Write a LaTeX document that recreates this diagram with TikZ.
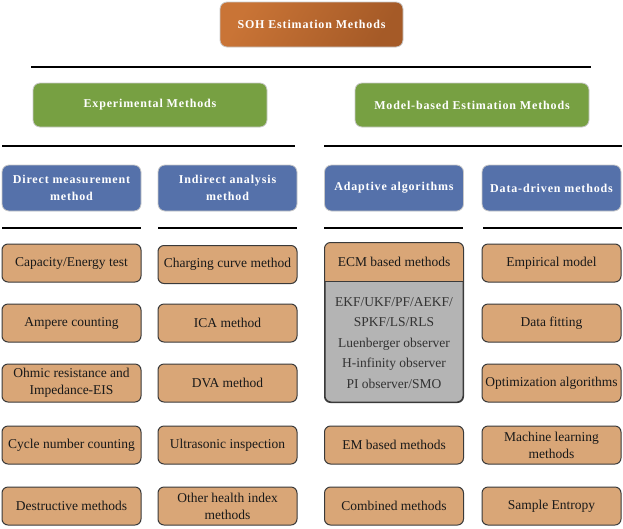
\documentclass[tikz,border=0pt]{standalone}
\usepackage{fontspec}
\setmainfont{Liberation Serif}
\newfontfamily\hdfont[LetterSpace=7]{Liberation Serif}
\definecolor{tanc}{HTML}{D9A677}
\definecolor{grayc}{HTML}{B4B4B4}
\definecolor{bluec}{HTML}{5571AA}
\definecolor{greenc}{HTML}{77A042}
\definecolor{sohA}{HTML}{C97436}
\definecolor{sohB}{HTML}{A55A27}
\definecolor{cellline}{HTML}{3A3A3A}
\definecolor{hdrline}{HTML}{C8C8C8}
\begin{document}
\begin{tikzpicture}[x=1pt,y=-1pt,
  cellbox/.style={draw=cellline, fill=tanc, rounded corners=6pt, line width=1pt,
    minimum width=139pt, minimum height=38pt, inner sep=0pt, align=center,
    font=\fontsize{13.5}{17}\selectfont, text=black!90},
  hdrbox/.style={draw=hdrline, rounded corners=7pt, line width=0.8pt, inner sep=0pt,
    font=\hdfont\bfseries\fontsize{12}{17}\selectfont, text=white, align=center},
  bluebox/.style={hdrbox, fill=bluec, minimum width=139pt, minimum height=46pt},
  greenbox/.style={hdrbox, fill=greenc, minimum width=234pt, minimum height=44pt},
  sepline/.style={draw=black, line width=1.3pt},
  graytext/.style={align=center, inner sep=0pt, text=black!80,
    font=\fontsize{13.5}{20.5}\selectfont}
]
\useasboundingbox (0,0) rectangle (623,528);

% top
\node[hdrbox, left color=sohA, right color=sohB, shading angle=60,
  minimum width=183pt, minimum height=45pt] (soh) at (311.5,24.5) {SOH Estimation Methods};
\draw[sepline] (31,67) -- (591,67);

% level 2
\node[greenbox] (exp) at (150,105) {Experimental Methods};
\node[greenbox] (mod) at (472,105) {Model-based Estimation Methods};
\draw[sepline] (2,146) -- (295,146);
\draw[sepline] (324,146) -- (622,146);

% level 3
\node[bluebox] (dir) at (71.5,188) {Direct measurement\\method};
\node[bluebox] (ind) at (227.5,188) {Indirect analysis\\method};
\node[bluebox] (ada) at (394,188) {Adaptive algorithms};
\node[bluebox] (dat) at (551.5,188) {Data-driven methods};
\draw[sepline] (2,228) -- (141,228);
\draw[sepline] (158,228) -- (297,228);
\draw[sepline] (324,228) -- (463,228);
\draw[sepline] (483,228) -- (622,228);

% column 1
\node[cellbox] (c11) at (71.5,263) {Capacity/Energy test};
\node[cellbox] (c12) at (71.5,323) {Ampere counting};
\node[cellbox] (c13) at (71.5,383) {Ohmic resistance and\\Impedance-EIS};
\node[cellbox] (c14) at (71.5,445) {Cycle number counting};
\node[cellbox] (c15) at (71.5,506) {Destructive methods};

% column 2
\node[cellbox] (c21) at (227.5,264.5) {Charging curve method};
\node[cellbox] (c22) at (227.5,323) {ICA method};
\node[cellbox] (c23) at (227.5,383) {DVA method};
\node[cellbox] (c24) at (227.5,445) {Ultrasonic inspection};
\node[cellbox] (c25) at (227.5,506) {Other health index\\methods};

% column 3
\node[draw=cellline, fill=grayc, rounded corners=6pt, line width=1pt,
  minimum width=138pt, minimum height=159pt, inner sep=0pt] (gbox) at (394,322.5) {};
\begin{scope}
  \clip (gbox.north west) rectangle (463,281);
  \fill[tanc, rounded corners=6pt] (gbox.north west) rectangle (gbox.south east);
\end{scope}
\draw[draw=cellline, line width=1pt, rounded corners=6pt] (gbox.north west) rectangle (gbox.south east);
\draw[draw=cellline, line width=1pt] (gbox.west |- 0,281) -- (gbox.east |- 0,281);
\node[inner sep=0pt, text=black!90, font=\fontsize{13.5}{17}\selectfont] (ecm) at (394,262) {ECM based methods};
\node[graytext] (gtx) at (394,343) {EKF/UKF/PF/AEKF/\\SPKF/LS/RLS\\Luenberger observer\\H-infinity observer\\PI observer/SMO};
\node[cellbox] (c34) at (394,445) {EM based methods};
\node[cellbox] (c35) at (394,506) {Combined methods};

% column 4
\node[cellbox] (c41) at (551.5,263) {Empirical model};
\node[cellbox] (c42) at (551.5,323) {Data fitting};
\node[cellbox] (c43) at (551.5,383) {Optimization algorithms};
\node[cellbox] (c44) at (551.5,445) {Machine learning\\methods};
\node[cellbox] (c45) at (551.5,506) {Sample Entropy};
\end{tikzpicture}
\end{document}
